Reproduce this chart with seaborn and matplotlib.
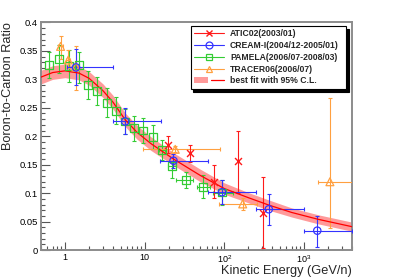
import numpy as np
import matplotlib
matplotlib.use("Agg")
import matplotlib.pyplot as plt
import seaborn as sns
from matplotlib.lines import Line2D
from matplotlib.patches import Patch
from matplotlib.legend_handler import HandlerTuple
from matplotlib.ticker import MultipleLocator, FixedLocator, FixedFormatter, NullFormatter

# ---------------- data ----------------
pam_x = [0.635, 0.85, 1.12, 1.5, 1.95, 2.5, 3.35, 4.4, 5.7, 7.4, 9.6, 12.8, 16.5, 22, 33, 53.5, 93.5]
pam_y = [0.326, 0.336, 0.323, 0.326, 0.290, 0.280, 0.259, 0.245, 0.226, 0.214, 0.210, 0.199, 0.176, 0.147, 0.123, 0.111, 0.101]
pam_ylo = [0.303, 0.311, 0.296, 0.293, 0.265, 0.255, 0.234, 0.221, 0.204, 0.192, 0.188, 0.178, 0.158, 0.126, 0.109, 0.092, 0.079]
pam_yhi = [0.349, 0.360, 0.351, 0.348, 0.315, 0.305, 0.284, 0.269, 0.248, 0.236, 0.232, 0.220, 0.194, 0.155, 0.138, 0.132, 0.123]
pam_xlo = [0.635, 0.85, 1.12, 1.5, 1.95, 2.5, 3.35, 4.4, 5.7, 7.4, 9.6, 12.8, 15.0, 19.8, 25, 45, 73]
pam_xhi = [0.635, 0.85, 1.12, 1.5, 1.95, 2.5, 3.35, 4.4, 5.7, 7.4, 9.6, 12.8, 18.2, 24.6, 41, 67, 130]

cream_x = [1.375, 5.7, 23, 93.5, 361, 1466]
cream_y = [0.321, 0.226, 0.157, 0.1015, 0.0716, 0.034]
cream_ylo = [0.290, 0.204, 0.144, 0.081, 0.044, 0.006]
cream_yhi = [0.353, 0.249, 0.168, 0.123, 0.0985, 0.060]
cream_xlo = [1.05, 4.0, 15.7, 63, 253, 1000]
cream_xhi = [4.0, 16, 62, 253, 1000, 4000]

atic_x = [19.7, 37.4, 74, 149, 307]
atic_y = [0.185, 0.170, 0.119, 0.157, 0.065]
atic_ylo = [0.170, 0.155, 0.091, 0.100, 0.003]
atic_yhi = [0.200, 0.185, 0.150, 0.210, 0.129]

trac_x = [0.88, 1.10, 1.37, 24.2, 170, 2113]
trac_y = [0.358, 0.334, 0.322, 0.177, 0.081, 0.120]
trac_ylo = [0.336, 0.320, 0.282, 0.172, 0.070, 0.038]
trac_yhi = [0.376, 0.352, 0.358, 0.182, 0.091, 0.267]
trac_xlo = [0.82, 1.04, 1.30, 9.5, 85, 1490]
trac_xhi = [0.95, 1.17, 1.45, 87, 260, 5000]

fit_x = [0.5, 0.7, 1.0, 1.5, 2, 3, 4, 5.7, 8, 12, 23, 50, 100, 200, 361, 700, 1500, 4000]
fit_y = [0.304, 0.312, 0.315, 0.311, 0.302, 0.280, 0.260, 0.229, 0.207, 0.187, 0.160, 0.131, 0.108, 0.092, 0.079, 0.066, 0.054, 0.041]
fit_lo = [0.292, 0.300, 0.303, 0.299, 0.290, 0.268, 0.248, 0.217, 0.195, 0.175, 0.149, 0.120, 0.098, 0.083, 0.070, 0.058, 0.046, 0.033]
fit_hi = [0.316, 0.324, 0.327, 0.323, 0.314, 0.292, 0.272, 0.241, 0.219, 0.199, 0.171, 0.142, 0.118, 0.101, 0.088, 0.074, 0.062, 0.049]

series_labels = ["ATIC02(2003/01)", "CREAM-I(2004/12-2005/01)", "PAMELA(2006/07-2008/03)",
                 "TRACER06(2006/07)", "best fit with 95% C.L."]
ytick_vals = [0, 0.05, 0.1, 0.15, 0.2, 0.25, 0.3, 0.35, 0.4]
ytick_text = ["0", "0.05", "0.1", "0.15", "0.2", "0.25", "0.3", "0.35", "0.4"]
xtick_vals = [1, 10, 100, 1000]
xtick_text = ["1", "10", "$10^{2}$", "$10^{3}$"]

# ---------------- style ----------------
sns.set_style("ticks")
plt.rcParams["font.family"] = ["Liberation Sans", "DejaVu Sans"]
plt.rcParams["mathtext.fontset"] = "custom"
plt.rcParams["mathtext.rm"] = "Liberation Sans"
plt.rcParams["mathtext.it"] = "Liberation Sans"

C_ATIC = "#ff1a1a"
C_CREAM = "#3333ff"
C_PAM = "#33cc33"
C_TRAC = "#ffa040"
C_BAND = "#ff9a9a"
C_FIT = "#ff0000"
FRAME = "#8c8c8c"

fig = plt.figure(figsize=(4.09, 2.78), dpi=100)
ax = fig.add_axes([41 / 409, 28 / 278, 311 / 409, 227.5 / 278])
ax.set_xscale("log")
ax.set_xlim(0.5, 4000)
ax.set_ylim(0, 0.4)

# fit band and line
ax.fill_between(fit_x, fit_lo, fit_hi, color=C_BAND, lw=0, zorder=1)
sns.lineplot(x=fit_x, y=fit_y, color=C_FIT, lw=0.9, ax=ax, zorder=4)


def draw(x, y, ylo, yhi, xlo, xhi, color, marker, ms):
    x = np.asarray(x); y = np.asarray(y)
    yerr = [y - np.asarray(ylo), np.asarray(yhi) - y]
    xerr = None
    if xlo is not None:
        xerr = [x - np.asarray(xlo), np.asarray(xhi) - x]
    ax.errorbar(x, y, yerr=yerr, xerr=xerr, fmt="none", ecolor=color, elinewidth=0.8,
                capsize=1.6, capthick=0.8, zorder=3)
    if marker == "x":
        sns.scatterplot(x=x, y=y, marker="x", s=ms, color=color, linewidth=1.0, ax=ax, zorder=5)
    else:
        sns.scatterplot(x=x, y=y, marker=marker, s=ms, facecolor="none", edgecolor=color,
                        linewidth=0.9, ax=ax, zorder=5)


draw(pam_x, pam_y, pam_ylo, pam_yhi, pam_xlo, pam_xhi, C_PAM, "s", 32)
draw(trac_x, trac_y, trac_ylo, trac_yhi, trac_xlo, trac_xhi, C_TRAC, "^", 32)
draw(atic_x, atic_y, atic_ylo, atic_yhi, None, None, C_ATIC, "x", 25)
draw(cream_x, cream_y, cream_ylo, cream_yhi, cream_xlo, cream_xhi, C_CREAM, "o", 28)

# axes styling (ROOT-like)
for s in ax.spines.values():
    s.set_color(FRAME)
    s.set_linewidth(1.4)
ax.yaxis.set_major_locator(FixedLocator(ytick_vals))
ax.yaxis.set_major_formatter(FixedFormatter(ytick_text))
ax.yaxis.set_minor_locator(MultipleLocator(0.01))
ax.xaxis.set_major_locator(FixedLocator(xtick_vals))
ax.xaxis.set_major_formatter(FixedFormatter(xtick_text))
ax.xaxis.set_minor_locator(matplotlib.ticker.LogLocator(base=10, subs=np.arange(2, 10), numticks=20))
ax.xaxis.set_minor_formatter(NullFormatter())
ax.tick_params(axis="both", which="both", direction="in", color="#555555", width=0.8,
               top=False, right=False, labelsize=6.8, labelcolor="black")
ax.tick_params(axis="y", which="major", length=6.5, pad=2)
ax.tick_params(axis="y", which="minor", length=3.2)
ax.tick_params(axis="x", which="major", length=5.5, pad=2.2, labelsize=6.5)
ax.tick_params(axis="x", which="minor", length=2.8)

ax.set_ylabel("Boron-to-Carbon Ratio", fontsize=9.2, loc="top", labelpad=4)
ax.set_xlabel("Kinetic Energy (GeV/n)", fontsize=9.2, ha="right", va="bottom")
ax.xaxis.set_label_coords(1.0, -0.1195)

# legend
handles = [
    Line2D([], [], color=C_ATIC, marker="x", ms=5, mew=1.0, lw=0.8),
    Line2D([], [], color=C_CREAM, marker="o", ms=5, mfc="none", mew=0.9, lw=0.8),
    Line2D([], [], color=C_PAM, marker="s", ms=5, mfc="none", mew=0.9, lw=0.8),
    Line2D([], [], color=C_TRAC, marker="^", ms=5, mfc="none", mew=0.9, lw=0.8),
    (Patch(facecolor=C_BAND, edgecolor="none"), Line2D([], [], color=C_FIT, lw=0.9)),
]
leg = ax.legend(handles, series_labels, loc="upper left",
                bbox_to_anchor=(0.481, 0.985, 0.499, 0.0), mode="expand",
                prop={"weight": "bold", "size": 6.25}, frameon=True, fancybox=False,
                edgecolor="black", framealpha=1, borderaxespad=0, borderpad=0.4,
                labelspacing=0.32, handlelength=3.5, handletextpad=0.65,
                handler_map={tuple: HandlerTuple(ndivide=None)},
                shadow={"color": "black", "alpha": 1})
leg.get_frame().set_linewidth(0.8)
leg.set_zorder(10)

fig.savefig("out.png", dpi=100)
